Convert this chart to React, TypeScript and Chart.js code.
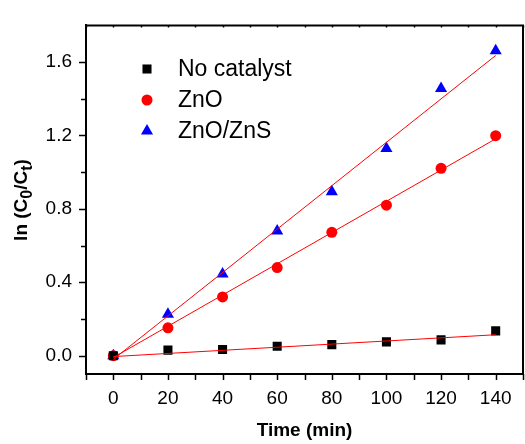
import React, { useEffect, useRef } from "react";
import { Chart, registerables } from "chart.js";

Chart.register(...registerables);

const times = [0, 20, 40, 60, 80, 100, 120, 140];
const noCatalyst = [0, 0.03, 0.033, 0.051, 0.06, 0.075, 0.086, 0.135];
const zno = [0, 0.152, 0.32, 0.48, 0.672, 0.82, 1.021, 1.199];
const znoZns = [0, 0.225, 0.445, 0.68, 0.894, 1.129, 1.456, 1.662];

const fitX = [0, 140];
const fitNoCatalyst = [-0.005, 0.114];
const fitZno = [-0.01, 1.182];
const fitZnoZns = [-0.02, 1.636];

const xTickValues = [0, 20, 40, 60, 80, 100, 120, 140];
const xMinorValues = [-10, 0, 10, 20, 30, 40, 50, 60, 70, 80, 90, 100, 110, 120, 130, 140, 150];
const yTickValues = [0, 0.4, 0.8, 1.2, 1.6];
const yMinorValues = [0.2, 0.6, 1.0, 1.4];

const FONT = "'Liberation Sans', Arial, sans-serif";

const pts = (ys: number[], xs: number[]) => ys.map((y, i) => ({ x: xs[i], y }));

const decorPlugin = {
  id: "decor",
  afterDraw(chart: any) {
    const ctx = chart.ctx;
    const { left, right, top, bottom } = chart.chartArea;
    const xs = chart.scales.x;
    const ys = chart.scales.y;
    ctx.save();
    ctx.strokeStyle = "#000";
    ctx.lineWidth = 2;
    ctx.beginPath();
    ctx.moveTo(left, top);
    ctx.lineTo(right, top);
    ctx.lineTo(right, bottom);
    ctx.stroke();
    ctx.lineWidth = 1.5;
    ctx.beginPath();
    xMinorValues.forEach((v) => {
      const px = Math.round(xs.getPixelForValue(v)) + 0.5;
      ctx.moveTo(px, bottom);
      ctx.lineTo(px, bottom + 6);
      ctx.moveTo(px, top);
      ctx.lineTo(px, top + 2);
    });
    yTickValues.forEach((v) => {
      const py = Math.round(ys.getPixelForValue(v)) + 0.5;
      ctx.moveTo(left, py);
      ctx.lineTo(left - 7, py);
    });
    yMinorValues.forEach((v) => {
      const py = Math.round(ys.getPixelForValue(v)) + 0.5;
      ctx.moveTo(left, py);
      ctx.lineTo(left - 5, py);
    });
    ctx.stroke();

    // Y axis title with subscripts
    ctx.translate(27, 200);
    ctx.rotate(-Math.PI / 2);
    ctx.fillStyle = "#000";
    ctx.textBaseline = "alphabetic";
    const big = "bold 19px " + FONT;
    const small = "bold 16px " + FONT;
    const parts: [string, string, number][] = [
      ["ln (C", big, 0],
      ["0", small, 5],
      ["/C", big, 0],
      ["t", small, 5],
      [")", big, 0],
    ];
    let total = 0;
    parts.forEach(([t, f]) => {
      ctx.font = f;
      total += ctx.measureText(t).width;
    });
    let x = -total / 2;
    parts.forEach(([t, f, dy]) => {
      ctx.font = f;
      ctx.fillText(t, x, dy);
      x += ctx.measureText(t).width;
    });
    ctx.restore();

    // Legend
    ctx.save();
    const legendY = [69, 100, 131];
    [0, 1, 2].forEach((di, k) => {
      const ds = chart.data.datasets[di];
      const opts = chart.getDatasetMeta(di).data[0].options;
      ctx.fillStyle = opts.backgroundColor;
      const cx = 147;
      const cy = legendY[k];
      const r = opts.radius;
      ctx.beginPath();
      if (opts.pointStyle === "rect") {
        const s = r * Math.SQRT2;
        ctx.rect(cx - s / 2, cy - s / 2, s, s);
      } else if (opts.pointStyle === "circle") {
        ctx.arc(cx, cy, r, 0, Math.PI * 2);
      } else {
        ctx.moveTo(cx, cy - r);
        ctx.lineTo(cx + r * Math.sin(Math.PI / 3), cy + r / 2);
        ctx.lineTo(cx - r * Math.sin(Math.PI / 3), cy + r / 2);
        ctx.closePath();
      }
      ctx.fill();
      ctx.fillStyle = "#000";
      ctx.font = "23px " + FONT;
      ctx.textBaseline = "middle";
      ctx.textAlign = "left";
      ctx.fillText(ds.label, 178, cy + 1);
    });
    ctx.restore();
  },
};

export default function App() {
  const ref = useRef<HTMLCanvasElement>(null);
  useEffect(() => {
    if (!ref.current) return;
    const fitStyle = {
      showLine: true,
      borderColor: "#ff0000",
      borderWidth: 1,
      pointRadius: 0,
      backgroundColor: "#ff0000",
      order: 0,
    };
    const chart = new Chart(ref.current, {
      type: "scatter",
      data: {
        datasets: [
          {
            label: "No catalyst",
            data: pts(noCatalyst, times),
            pointStyle: "rect",
            pointRadius: 6.4,
            backgroundColor: "#000000",
            borderColor: "#000000",
            borderWidth: 0,
            order: 1,
          },
          {
            label: "ZnO",
            data: pts(zno, times),
            pointStyle: "circle",
            pointRadius: 5.5,
            backgroundColor: "#ff0000",
            borderColor: "#ff0000",
            borderWidth: 0,
            order: 1,
          },
          {
            label: "ZnO/ZnS",
            data: pts(znoZns, times),
            pointStyle: "triangle",
            pointRadius: 7,
            backgroundColor: "#0000ff",
            borderColor: "#0000ff",
            borderWidth: 0,
            order: 1,
          },
          { label: "fit1", data: pts(fitNoCatalyst, fitX), ...fitStyle },
          { label: "fit2", data: pts(fitZno, fitX), ...fitStyle },
          { label: "fit3", data: pts(fitZnoZns, fitX), ...fitStyle },
        ] as any,
      },
      options: {
        animation: false,
        responsive: false,
        events: [],
        layout: { padding: { left: 0, top: 12, right: 2, bottom: 0 } },
        plugins: { legend: { display: false }, tooltip: { enabled: false } },
        scales: {
          x: {
            type: "linear",
            min: -10,
            max: 150,
            afterBuildTicks: (s: any) => {
              s.ticks = xTickValues.map((v) => ({ value: v }));
            },
            afterFit: (s: any) => {
              s.height = 70;
            },
            grid: { display: false, drawTicks: false },
            border: { display: true, color: "#000", width: 2 },
            ticks: {
              color: "#000",
              font: { family: FONT, size: 19 },
              padding: 13,
              maxRotation: 0,
              autoSkip: false,
            },
            title: {
              display: true,
              text: "Time (min)",
              color: "#000",
              font: { family: FONT, size: 19, weight: "bold" },
              padding: { top: 0, bottom: 2 },
            },
          },
          y: {
            type: "linear",
            min: -0.1,
            max: 1.8,
            afterBuildTicks: (s: any) => {
              s.ticks = yTickValues.map((v) => ({ value: v }));
            },
            afterFit: (s: any) => {
              s.width = 86;
            },
            grid: { display: false, drawTicks: false },
            border: { display: true, color: "#000", width: 2 },
            ticks: {
              color: "#000",
              font: { family: FONT, size: 19 },
              padding: 14,
              callback: (v: any) => Number(v).toFixed(1),
            },
          },
        },
      },
      plugins: [decorPlugin],
    });
    return () => chart.destroy();
  }, []);
  return (
    <div style={{ position: "absolute", left: 0, top: 0, width: 525, height: 444, overflow: "hidden", background: "#fff" }}>
      <canvas ref={ref} width={530} height={444} style={{ display: "block", width: 530, height: 444 }} />
    </div>
  );
}
